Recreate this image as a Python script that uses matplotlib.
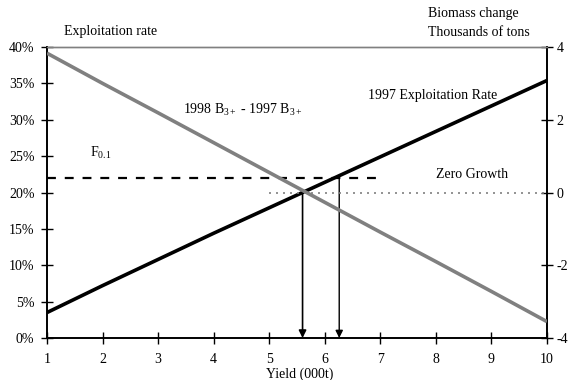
import matplotlib
matplotlib.use("Agg")
import matplotlib.pyplot as plt
import numpy as np

plt.rcParams['font.family'] = ['Liberation Serif', 'DejaVu Serif']
plt.rcParams['mathtext.fontset'] = 'custom'
plt.rcParams['mathtext.rm'] = 'Liberation Serif'
plt.rcParams['mathtext.it'] = 'Liberation Serif:italic'
plt.rcParams['mathtext.bf'] = 'Liberation Serif:bold'

yield_x = [1, 2, 3, 4, 5, 6, 7, 8, 9, 10]
exploit_1997 = [3.5, 7.2, 10.8, 14.4, 17.9, 21.4, 24.9, 28.4, 31.9, 35.4]   # %
biomass_change = [3.83, 3.0, 2.19, 1.37, 0.55, -0.27, -1.09, -1.9, -2.72, -3.55]  # 000 t
f01_level = 22.0
f01_xrange = [1, 7]
zero_xrange = [5, 10]
arrow_gray_x = 5.6
arrow_black_x = 6.26
left_ticks = [0, 5, 10, 15, 20, 25, 30, 35, 40]
right_ticks = [-4, -2, 0, 2, 4]

fig = plt.figure(figsize=(5.69, 3.80), dpi=100)
ax = fig.add_axes([47/569, 1-338/380, 500/569, 291/380])
ax2 = ax.twinx()

ax.set_xlim(1, 10)
ax.set_ylim(0, 40)
ax2.set_ylim(-4, 4)

# lines
ax.plot(yield_x, exploit_1997, color='black', lw=2.6, solid_capstyle='butt', zorder=3)
ax2.plot(yield_x, biomass_change, color='#808080', lw=2.6, solid_capstyle='butt', zorder=3)
ax.plot(f01_xrange, [f01_level, f01_level], color='black', lw=1.6, dashes=(4, 4))
ax2.plot(zero_xrange, [0, 0], color='#808080', lw=1.2, dashes=(1.2, 3))

# arrows
ax.annotate('', xy=(arrow_gray_x, 0), xytext=(arrow_gray_x, 20),
            arrowprops=dict(arrowstyle='-|>', color='#606060', lw=1.2,
                            mutation_scale=11, shrinkA=0, shrinkB=0,
                            fc='black', ec='black'))
ax.annotate('', xy=(arrow_black_x, 0), xytext=(arrow_black_x, f01_level),
            arrowprops=dict(arrowstyle='-|>', color='black', lw=1.0,
                            mutation_scale=11, shrinkA=0, shrinkB=0))

# spines
for a in (ax, ax2):
    a.spines['top'].set_color('#808080')
    a.spines['top'].set_linewidth(1.0)
    a.spines['left'].set_linewidth(1.2)
    a.spines['right'].set_linewidth(1.2)
    a.spines['bottom'].set_linewidth(1.2)

ax.set_xticks(yield_x)
ax.set_xticklabels([str(v) for v in yield_x])
ax.set_yticks(left_ticks)
ax.set_yticklabels([f"{v}%" for v in left_ticks])
ax2.set_yticks(right_ticks)
ax2.set_yticklabels([str(v) for v in right_ticks])

ax.tick_params(axis='x', direction='inout', length=8, width=1, labelsize=10, pad=7)
ax.tick_params(axis='y', direction='inout', length=8, width=1, labelsize=10, pad=5)
ax2.tick_params(axis='y', direction='inout', length=8, width=1, labelsize=10, pad=3)

# texts
fig.text(64/569, 1-31/380, 'Exploitation rate', fontsize=10, va='center', ha='left')
fig.text(428/569, 1-14/380, 'Biomass change', fontsize=10, va='center', ha='left')
fig.text(428/569, 1-32/380, 'Thousands of tons', fontsize=10, va='center', ha='left')
fig.text(300/569, 1-374/380, 'Yield (000t)', fontsize=10, va='center', ha='center')
ax.text(3.45, 31.4, r'1998 B$_{3+}$ - 1997 B$_{3+}$', fontsize=10, va='center', ha='left')
ax.text(1.77, 25.4, r'F$_{0.1}$', fontsize=10, va='center', ha='left')
ax.text(6.77, 33.3, '1997 Exploitation Rate', fontsize=10, va='center', ha='left')
ax.text(8.0, 22.5, 'Zero Growth', fontsize=10, va='center', ha='left')

fig.savefig('out.png', dpi=100)
